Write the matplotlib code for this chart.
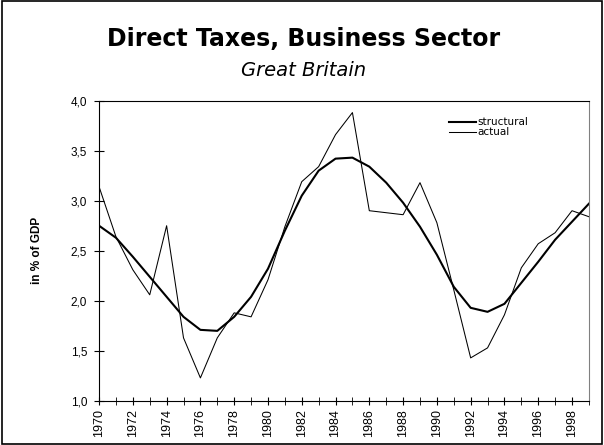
import numpy as np
import matplotlib
matplotlib.use("Agg")
import matplotlib.pyplot as plt
from matplotlib.ticker import FuncFormatter, MultipleLocator

plt.rcParams['font.family'] = ['Liberation Sans', 'DejaVu Sans']

# data
years = list(range(1970, 2000))
actual = [3.14, 2.64, 2.31, 2.06, 2.75, 1.63, 1.23, 1.63, 1.88, 1.84,
          2.21, 2.74, 3.19, 3.34, 3.66, 3.88, 2.90, 2.88, 2.86, 3.18,
          2.78, 2.11, 1.43, 1.53, 1.86, 2.33, 2.57, 2.68, 2.90, 2.84]
structural = [2.75, 2.63, 2.44, 2.24, 2.04, 1.84, 1.71, 1.70, 1.84, 2.04,
              2.32, 2.70, 3.05, 3.30, 3.42, 3.43, 3.34, 3.18, 2.98, 2.74,
              2.46, 2.14, 1.93, 1.89, 1.97, 2.18, 2.39, 2.61, 2.79, 2.97]

fig = plt.figure(figsize=(6.04, 4.45), dpi=100)
ax = fig.add_axes([0.164, 0.099, 0.811, 0.675])

ax.plot(years, structural, color='black', linewidth=1.5, label='structural')
ax.plot(years, actual, color='black', linewidth=0.75, label='actual')

ax.set_xlim(1970, 1999)
ax.set_ylim(1.0, 4.0)
ax.xaxis.set_major_locator(MultipleLocator(2))
ax.xaxis.set_minor_locator(MultipleLocator(1))
ax.yaxis.set_major_locator(MultipleLocator(0.5))
ax.yaxis.set_major_formatter(FuncFormatter(lambda v, p: f"{v:.1f}".replace('.', ',')))
ax.tick_params(axis='x', which='both', direction='inout', length=6, labelsize=9,
               labelrotation=90, top=False, pad=3)
ax.tick_params(axis='y', direction='inout', length=7, labelsize=8.5, right=False, pad=5)
ax.spines['right'].set_color('#808080')

ax.set_ylabel('in % of GDP', fontsize=8.5, fontweight='bold', labelpad=20)

ax.legend(loc='upper right', bbox_to_anchor=(0.895, 0.975), frameon=False,
          prop={'family': 'DejaVu Sans', 'size': 7.5},
          handlelength=2.6, handletextpad=0.1, labelspacing=0.0)

fig.text(0.503, 0.896, 'Direct Taxes, Business Sector', ha='center', va='baseline',
         fontsize=17, fontweight='bold', family='DejaVu Sans')
fig.text(0.503, 0.830, 'Great Britain', ha='center', va='baseline',
         fontsize=14, style='italic', family='DejaVu Sans')

# frame around the whole picture
fig.patches.append(plt.Rectangle((0.003, 0.003), 0.994, 0.994, transform=fig.transFigure,
                                 fill=False, edgecolor='black', linewidth=1.2))

fig.savefig('out.png', dpi=100)
